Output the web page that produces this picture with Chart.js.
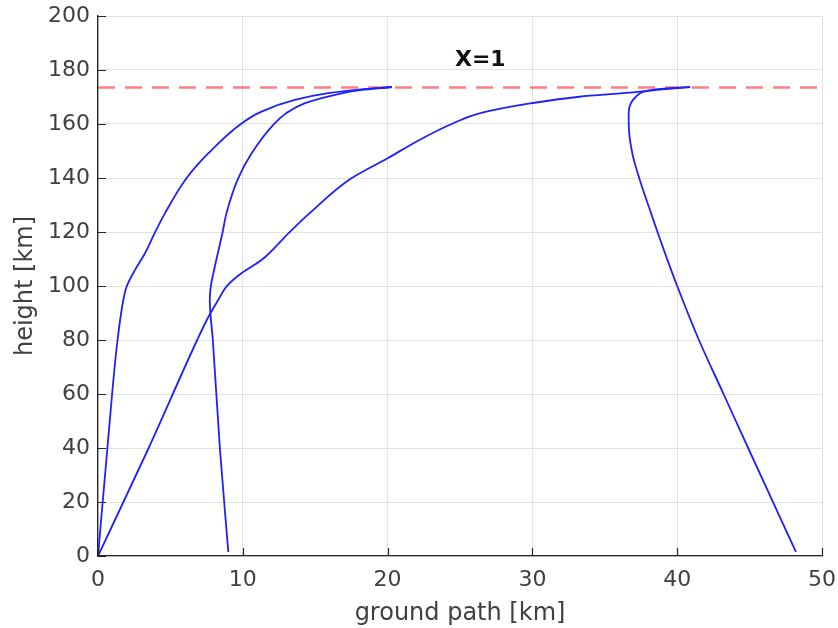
<!DOCTYPE html>
<html>
<head>
<meta charset="utf-8">
<script src="https://cdn.jsdelivr.net/npm/chart.js@4"></script>
<style>
  html, body { margin: 0; padding: 0; background: #fff; }
  #wrap { width: 838px; height: 628px; }
</style>
</head>
<body>
<div id="wrap"><canvas id="traj" width="838" height="628"></canvas></div>
<script>
// ground path [km] and height [km] for each trajectory
const pathAGround = [0, 0.65, 1.35, 1.75, 1.98, 2.55, 3.24, 3.93, 4.62, 6.11, 7.61, 9.91, 11.29, 13.59, 15.9, 18.2, 20.25];
const pathAHeight = [0, 40, 80, 94.8, 99.8, 105.9, 112.1, 119.8, 126.9, 139.9, 149.1, 160.2, 164.6, 168.9, 171.4, 172.8, 173.7];

const pathBGround = [9.0, 8.43, 7.93, 7.72, 7.79, 8.07, 8.6, 8.87, 9.68, 10.6, 12.2, 13.0, 14.3, 16.3, 18.2, 20.3];
const pathBHeight = [1.5, 39, 80, 94.8, 99.8, 107.2, 119.8, 126.9, 139.9, 149.1, 160.2, 164, 167.7, 170.7, 172.6, 173.7];

const pathCGround = [0, 3.5, 6.85, 7.63, 8.3, 8.87, 9.9, 11.29, 13.2, 14.6, 17.5, 20.0, 22.2, 24.5, 26.4, 29.95, 33.24, 36.7, 39.0, 40.85];
const pathCHeight = [0, 40, 80, 88.6, 94.8, 99.8, 104.7, 109.6, 119.8, 126.9, 139.9, 147.3, 154.1, 160.2, 164, 167.7, 170.1, 171.6, 172.8, 173.7];

const pathDGround = [48.2, 44.9, 43.2, 41.5, 40.0, 39.33, 38.65, 38.2, 37.38, 36.9, 36.65, 36.65, 36.8, 37.15, 37.7, 38.5, 39.7, 40.9];
const pathDHeight = [1.5, 40, 60, 80, 100, 109.6, 119.8, 126.9, 139.9, 149.1, 160.2, 164, 167.7, 170.1, 172, 172.8, 173.4, 173.7];

// X=1 level
const levelHeight = 173.5;
const levelGround = [0, 50];
const levelLabel = "X=1";
const labelAt = [26.4, 183.7];

const xTicks = [0, 10, 20, 30, 40, 50];
const yTicks = [0, 20, 40, 60, 80, 100, 120, 140, 160, 180, 200];

function toPoints(xs, ys) {
  return xs.map((v, i) => ({ x: v, y: ys[i] }));
}

const FONT = '"DejaVu Sans", sans-serif';

function pathSet(xs, ys) {
  return {
    data: toPoints(xs, ys),
    showLine: true,
    indexAxis: "y",
    cubicInterpolationMode: "monotone",
    borderColor: "#1f1fff",
    borderWidth: 1.8,
    pointRadius: 0,
    fill: false
  };
}

// inward ticks + level label
const overlay = {
  id: "overlay",
  afterDatasetsDraw(chart) {
    const { ctx, scales: { x, y } } = chart;
    ctx.save();
    ctx.strokeStyle = "#262626";
    ctx.lineWidth = 1.2;
    ctx.beginPath();
    xTicks.forEach(v => {
      const px = Math.round(x.getPixelForValue(v)) + 0.5;
      ctx.moveTo(px, y.bottom);
      ctx.lineTo(px, y.bottom - 8);
    });
    yTicks.forEach(v => {
      const py = Math.round(y.getPixelForValue(v)) + 0.5;
      ctx.moveTo(x.left, py);
      ctx.lineTo(x.left + 8, py);
    });
    ctx.stroke();

    ctx.font = "bold 22px " + FONT;
    ctx.fillStyle = "#111";
    ctx.textAlign = "center";
    ctx.textBaseline = "middle";
    ctx.fillText(levelLabel, x.getPixelForValue(labelAt[0]), y.getPixelForValue(labelAt[1]));
    ctx.restore();
  }
};

const chart = new Chart(document.getElementById("traj"), {
  type: "scatter",
  data: {
    datasets: [
      pathSet(pathAGround, pathAHeight),
      pathSet(pathBGround, pathBHeight),
      pathSet(pathCGround, pathCHeight),
      pathSet(pathDGround, pathDHeight),
      {
        data: levelGround.map(g => ({ x: g, y: levelHeight })),
        showLine: true,
        borderColor: "rgba(255, 40, 40, 0.6)",
        borderWidth: 2.6,
        borderDash: [17, 10],
        pointRadius: 0,
        fill: false
      }
    ]
  },
  options: {
    responsive: false,
    animation: false,
    layout: { padding: 0 },
    plugins: {
      legend: { display: false },
      tooltip: { enabled: false }
    },
    scales: {
      x: {
        type: "linear",
        min: 0,
        max: 50,
        afterBuildTicks: s => { s.ticks = xTicks.map(v => ({ value: v })); },
        afterFit: s => { s.height = 72; s.paddingRight = 16; },
        grid: { color: "#e2e2e2", lineWidth: 1, drawTicks: false },
        border: { display: true, color: "#262626", width: 1.3 },
        ticks: { color: "#404040", font: { family: FONT, size: 22 }, padding: 11, maxRotation: 0 },
        title: { display: true, text: "ground path [km]", color: "#404040", font: { family: FONT, size: 24 }, padding: { top: 2, bottom: 0 } }
      },
      y: {
        type: "linear",
        min: 0,
        max: 200,
        afterBuildTicks: s => { s.ticks = yTicks.map(v => ({ value: v })); },
        afterFit: s => { s.width = 98; s.paddingTop = 16; },
        grid: { color: "#e2e2e2", lineWidth: 1, drawTicks: false },
        border: { display: true, color: "#262626", width: 1.3 },
        ticks: { color: "#404040", font: { family: FONT, size: 22 }, padding: 8 },
        title: { display: true, text: "height [km]", color: "#404040", font: { family: FONT, size: 24 }, padding: { top: 11, bottom: 0 } }
      }
    }
  },
  plugins: [overlay]
});
</script>
</body>
</html>
